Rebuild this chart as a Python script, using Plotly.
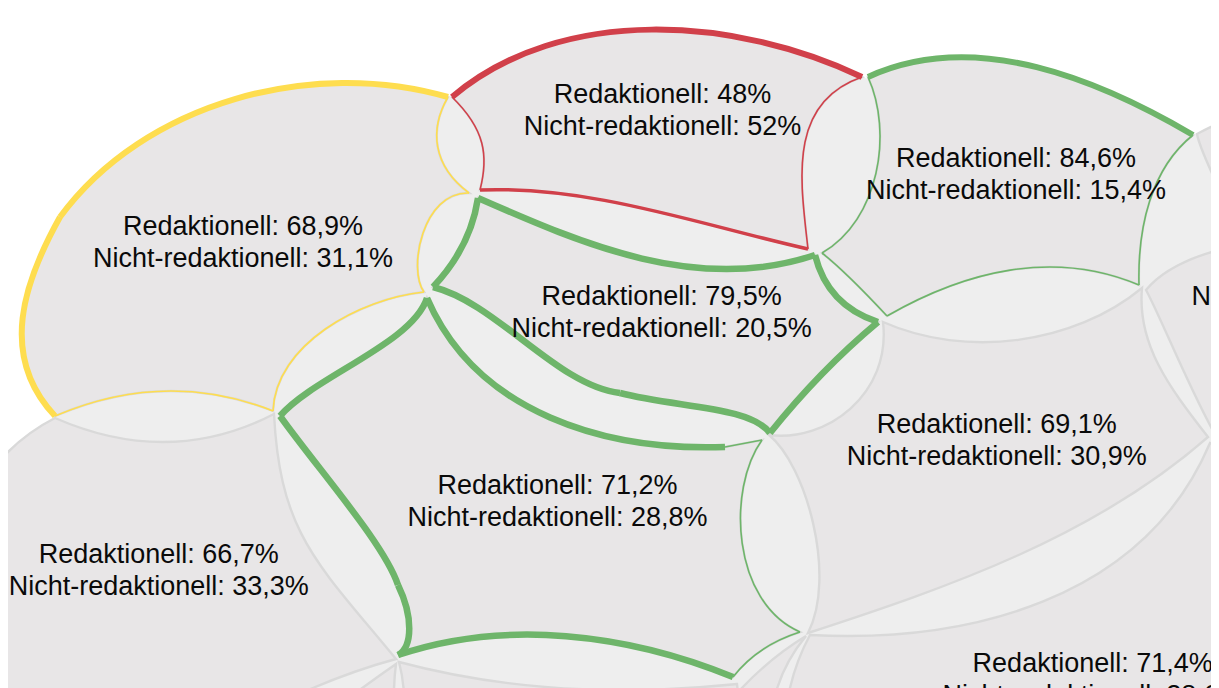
import plotly.graph_objects as go

# ---------------- chart values ----------------
redaktionell = ["68,9%", "48%", "84,6%", "79,5%", "71,2%", "69,1%", "66,7%", "71,4%", "76,9%"]
nicht_redaktionell = ["31,1%", "52%", "15,4%", "20,5%", "28,8%", "30,9%", "33,3%", "28,6%", "23,1%"]
label_x = [243, 662.5, 1016, 661.7, 557.5, 996.8, 158.8, 1092.7, 1341.7]
label_y = [244.5, 112, 176, 314.3, 503.7, 442.6, 572.3, 680.8, 282]

# ---------------- cell geometry (x right, y down) ----------------
# each edge: list of points [start, (through points...), end]
cell_a = [
    [(55, 416), (23, 352), (30, 284), (60, 217)],
    [(60, 217), (168, 126), (306, 85), (448, 97)],
    [(448, 97), (437, 130), (443, 163), (469, 193)],
    [(469, 193), (433, 213), (418, 256), (424, 292)],
    [(424, 292), (357, 311), (299, 352), (273, 411)],
    [(273, 411), (165, 391), (55, 416)],
]
cell_b = [
    [(452, 97), (580, 37), (725, 35), (862, 77)],
    [(862, 77), (813, 118), (802, 180), (808, 249)],
    [(808, 249), (700, 222), (591, 198), (480, 190)],
    [(480, 190), (484, 158), (476, 128), (452, 97)],
]
cell_c = [
    [(868, 77), (980, 58), (1092, 85), (1193, 135)],
    [(1193, 135), (1160, 176), (1143, 228), (1139, 285)],
    [(1139, 285), (1053, 267), (968, 280), (887, 316)],
    [(887, 316), (850, 278), (822, 253)],
    [(822, 253), (865, 205), (880, 140), (868, 77)],
]
cell_d = [
    [(433, 287), (463, 245), (478, 198)],
    [(478, 198), (586, 242), (699, 268), (815, 255)],
    [(815, 255), (837, 297), (878, 322)],
    [(878, 322), (822, 374), (770, 433)],
    [(770, 433), (735, 414), (680, 404), (620, 393)],
    [(620, 393), (558, 366), (496, 320), (433, 287)],
]
cell_e = [
    [(280, 416), (330, 378), (390, 340), (427, 298)],
    [(427, 298), (500, 389), (606, 436), (725, 447)],
    [(725, 447), (762, 440)],
    [(762, 440), (741, 505), (752, 580), (800, 632)],
    [(800, 632), (762, 650), (733, 677)],
    [(733, 677), (623, 644), (509, 635), (398, 655)],
    [(398, 655), (408, 640), (408, 615), (398, 585)],
    [(398, 585), (370, 535), (325, 475), (280, 416)],
]
cell_f = [
    [(883, 322), (972, 342), (1063, 330), (1142, 288)],
    [(1142, 288), (1148, 340), (1172, 388), (1208, 437)],
    [(1208, 437), (1085, 522), (949, 584), (808, 633)],
    [(808, 633), (819, 563), (802, 487), (769, 435)],
    [(769, 435), (826, 425), (870, 385), (883, 322)],
]
cell_g = [
    [(-25, 495), (10, 450), (55, 418)],
    [(55, 418), (167, 442), (274, 414)],
    [(274, 414), (291, 510), (331, 580), (396, 659)],
    [(396, 659), (325, 683), (250, 718)],
    [(250, 718), (-25, 718)],
    [(-25, 718), (-25, 495)],
]
cell_h = [
    [(810, 635), (968, 624), (1111, 565), (1210, 443)],
    [(1210, 443), (1300, 470)],
    [(1300, 470), (1300, 730)],
    [(1300, 730), (784, 730)],
    [(784, 730), (792, 680), (810, 635)],
]
cell_i = [
    [(1146, 290), (1185, 262), (1240, 245), (1300, 240)],
    [(1300, 240), (1300, 430)],
    [(1300, 430), (1216, 436)],
    [(1216, 436), (1190, 385), (1165, 330), (1146, 290)],
]
cell_j = [
    [(1197, 134), (1250, 112), (1300, 105)],
    [(1300, 105), (1300, 235)],
    [(1300, 235), (1240, 238)],
    [(1240, 238), (1222, 195), (1206, 160), (1197, 134)],
]
cell_k = [
    [(399, 662), (560, 688), (737, 684)],
    [(737, 684), (742, 730)],
    [(742, 730), (402, 730)],
    [(402, 730), (404, 695), (399, 662)],
]
cell_l = [
    [(396, 664), (350, 697), (300, 735)],
    [(300, 735), (397, 735)],
    [(397, 735), (394, 698), (396, 664)],
]
cell_m = [
    [(806, 636), (772, 660), (740, 690)],
    [(740, 690), (745, 730)],
    [(745, 730), (770, 730)],
    [(770, 730), (780, 680), (806, 636)],
]
underlay = [(-25, 495), (55, 416), (448, 97), (864, 78), (1197, 134), (1300, 105), (1300, 740), (-25, 740)]

# highlighted outlines: (cell, colour, width per edge)
YELLOW = "#fedd4f"
RED = "#d1404a"
GREEN = "#6eb56a"
highlights = [
    (cell_a, YELLOW, [6, 6, 1.6, 1.6, 1.6, 1.6]),
    (cell_b, RED, [6, 1.6, 3.5, 1.6]),
    (cell_c, GREEN, [6, 1.6, 1.6, 1.6, 1.6]),
    (cell_e, GREEN, [6.5, 6.5, 1.6, 1.6, 1.6, 6.5, 6.5, 6.5]),
    (cell_d, GREEN, [6.5, 6.5, 6.5, 6.5, 6.5, 6.5]),
]

CELL_FILL = "#e8e6e7"
GAP_FILL = "#eeeeee"
OUTLINE = "#d9d9d9"


def seg(pts):
    (x0, y0) = pts[0]
    if len(pts) == 2:
        x1, y1 = pts[1]
        return f" L{x1:.2f},{y1:.2f}"
    if len(pts) == 3:
        (mx, my), (x2, y2) = pts[1], pts[2]
        cx = 2 * mx - (x0 + x2) / 2
        cy = 2 * my - (y0 + y2) / 2
        return f" Q{cx:.2f},{cy:.2f} {x2:.2f},{y2:.2f}"
    (bx1, by1), (bx2, by2), (x3, y3) = pts[1], pts[2], pts[3]
    q1x = 27 * bx1 - 8 * x0 - x3
    q1y = 27 * by1 - 8 * y0 - y3
    q2x = 27 * bx2 - x0 - 8 * x3
    q2y = 27 * by2 - y0 - 8 * y3
    c1x = (2 * q1x - q2x) / 18
    c1y = (2 * q1y - q2y) / 18
    c2x = (2 * q2x - q1x) / 18
    c2y = (2 * q2y - q1y) / 18
    return f" C{c1x:.2f},{c1y:.2f} {c2x:.2f},{c2y:.2f} {x3:.2f},{y3:.2f}"


def cell_path(edges):
    x0, y0 = edges[0][0]
    p = f"M{x0:.2f},{y0:.2f}"
    for e in edges:
        p += seg(e)
    return p + " Z"


def edge_path(e):
    x0, y0 = e[0]
    return f"M{x0:.2f},{y0:.2f}" + seg(e)


shapes = []
# light gap background
shapes.append(dict(type="path", xref="x", yref="y", layer="below",
                   path="M" + " L".join(f"{x},{y}" for x, y in underlay) + " Z",
                   fillcolor=GAP_FILL, line=dict(width=0)))

for c in [cell_g, cell_l, cell_k, cell_m, cell_h, cell_f, cell_i, cell_j,
          cell_a, cell_b, cell_c, cell_d, cell_e]:
    shapes.append(dict(type="path", xref="x", yref="y", layer="below",
                       path=cell_path(c), fillcolor=CELL_FILL,
                       line=dict(color=OUTLINE, width=2.4)))

for c, col, widths in highlights:
    for e, w in sorted(zip(c, widths), key=lambda t: t[1]):
        shapes.append(dict(type="path", xref="x", yref="y", layer="below",
                           path=edge_path(e), line=dict(color=col, width=w)))

fig = go.Figure()
font = dict(family="Liberation Sans, Arial, sans-serif", size=27, color="#0a0a0a")
fig.add_trace(go.Scatter(
    x=label_x, y=[v - 16 for v in label_y], mode="text",
    text=["Redaktionell: " + r for r in redaktionell],
    textposition="middle center", textfont=font, hoverinfo="skip", cliponaxis=True))
fig.add_trace(go.Scatter(
    x=label_x, y=[v + 16 for v in label_y], mode="text",
    text=["Nicht-redaktionell: " + n for n in nicht_redaktionell],
    textposition="middle center", textfont=font, hoverinfo="skip", cliponaxis=True))

# the page body adds an 8px offset, so the figure is 8px smaller and the
# axis ranges start at 8 to keep data units equal to page pixels
fig.update_layout(
    width=1211, height=680,
    margin=dict(l=0, r=6, t=0, b=0),
    paper_bgcolor="white", plot_bgcolor="white",
    showlegend=False, shapes=shapes,
    xaxis=dict(range=[8, 1213], visible=False, fixedrange=True),
    yaxis=dict(range=[688, 8], visible=False, fixedrange=True),
)
fig.write_html("out.html", config={"displayModeBar": False})
